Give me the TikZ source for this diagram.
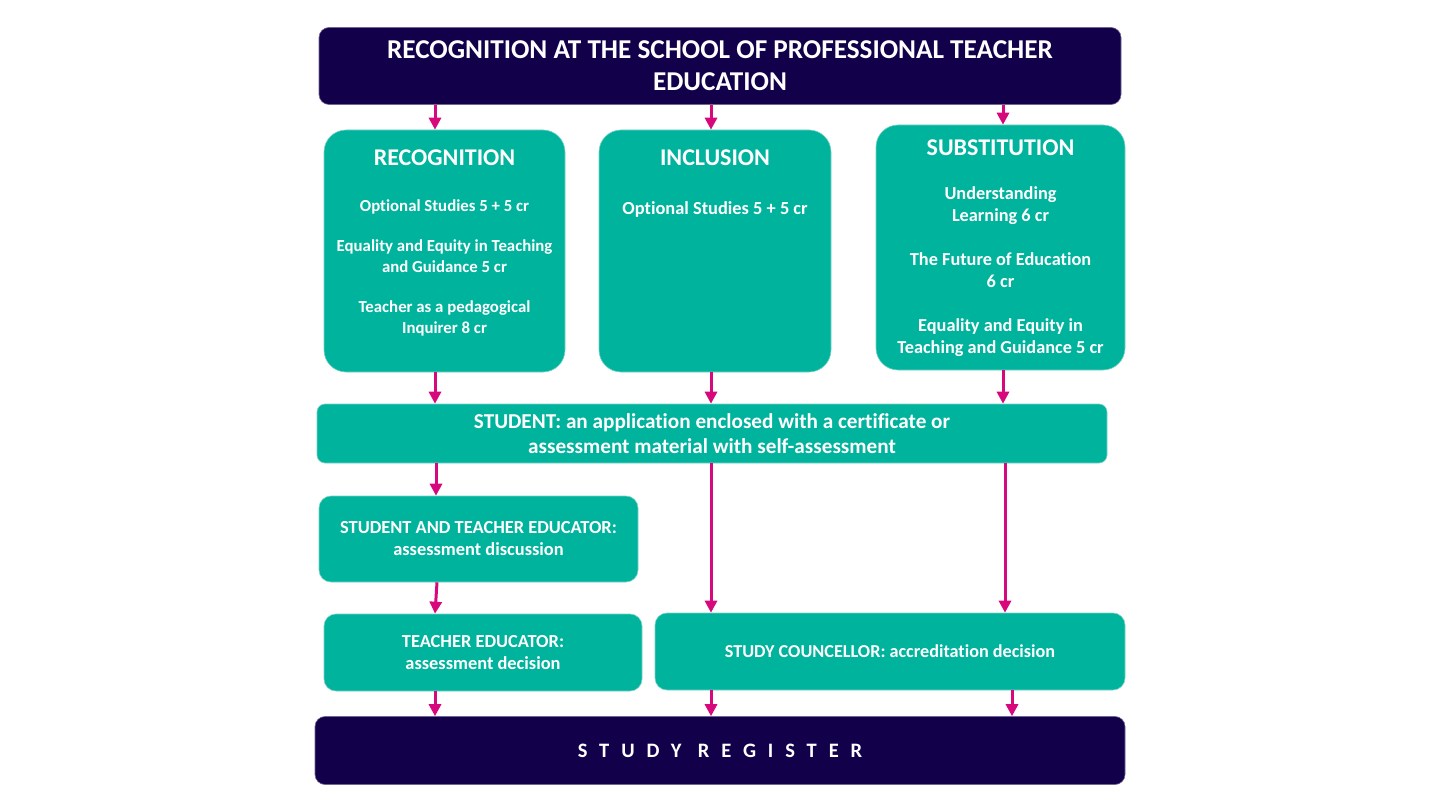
\documentclass[tikz,border=0pt]{standalone}
\usepackage{fontspec}
\setmainfont[Ligatures=NoCommon]{Carlito}
\newfontfamily\spacedfont[LetterSpace=58,Ligatures=NoCommon]{Carlito}
\usetikzlibrary{arrows.meta}
\definecolor{navy}{RGB}{18,0,74}
\definecolor{teal}{RGB}{0,179,157}
\definecolor{mag}{RGB}{214,8,124}
\definecolor{tealedge}{RGB}{120,210,198}
\tikzset{
  navybox/.style={fill=navy, draw=navy!60, line width=0.6pt, rounded corners=10pt, inner sep=0pt, text=white, font=\bfseries},
  tealbox/.style={fill=teal, draw=tealedge, line width=0.6pt, inner sep=0pt, text=white, font=\bfseries},
  txt/.style={text=white, font=\bfseries, align=center, inner sep=0pt},
  arr/.style={draw=mag, line width=3pt, -{Triangle[length=12pt,width=12pt]}, shorten >=0pt}
}
\begin{document}
\begin{tikzpicture}[x=1pt,y=-1pt]
\useasboundingbox (0,0) rectangle (1440,810);
% boxes
\node[navybox, minimum width=802pt, minimum height=77pt, align=center, font=\bfseries\fontsize{27.2}{32}\selectfont] (top) at (720,66)
  {RECOGNITION AT THE SCHOOL OF PROFESSIONAL TEACHER\\EDUCATION};
\node[tealbox, rounded corners=22pt, minimum width=241pt, minimum height=242pt] (rec) at (444.5,251) {};
\node[tealbox, rounded corners=22pt, minimum width=232pt, minimum height=242pt] (inc) at (715,251) {};
\node[tealbox, rounded corners=22pt, minimum width=249pt, minimum height=245pt] (sub) at (1000.5,247.5) {};
\node[tealbox, rounded corners=8pt, minimum width=790pt, minimum height=59pt, align=center, font=\bfseries\fontsize{21.2}{25}\selectfont] (stu) at (712,433.5)
  {STUDENT: an application enclosed with a certificate or\\assessment material with self-assessment};
\node[tealbox, rounded corners=12pt, minimum width=319pt, minimum height=86pt, align=center, font=\bfseries\fontsize{18.4}{22}\selectfont] (ste) at (478.5,539)
  {STUDENT AND TEACHER EDUCATOR:\\assessment discussion};
\node[tealbox, rounded corners=12pt, minimum width=318pt, minimum height=77pt, align=center, font=\bfseries\fontsize{18.4}{22}\selectfont] (ted) at (483,652.5)
  {TEACHER EDUCATOR:\\assessment decision};
\node[tealbox, rounded corners=12pt, minimum width=470pt, minimum height=77pt, font=\bfseries\fontsize{18.2}{22}\selectfont] (sco) at (890,651.5)
  {STUDY COUNCELLOR: accreditation decision};
\node[navybox, minimum width=810pt, minimum height=68pt, font=\bfseries\spacedfont\fontsize{20.5}{24}\selectfont] (reg) at (720,750.5)
  {STUDY REGISTER};
% texts inside upper boxes
\node[txt, font=\bfseries\fontsize{24}{28}\selectfont] (recT) at (444.5,158) {RECOGNITION};
\node[txt, font=\bfseries\fontsize{16.8}{21}\selectfont] (recB) at (444.5,268)
  {Optional Studies 5 + 5 cr\\[19pt]Equality and Equity in Teaching\\and Guidance 5 cr\\[19pt]Teacher as a pedagogical\\Inquirer 8 cr};
\node[txt, font=\bfseries\fontsize{24}{28}\selectfont] (incT) at (715,158) {INCLUSION};
\node[txt, font=\bfseries\fontsize{18.4}{21}\selectfont] (incB) at (715,209) {Optional Studies 5 + 5 cr};
\node[txt, font=\bfseries\fontsize{24}{28}\selectfont] (subT) at (1000.5,148) {SUBSTITUTION};
\node[txt, font=\bfseries\fontsize{18.3}{22}\selectfont] (subB) at (1000.5,272)
  {Understanding\\Learning 6 cr\\[22pt]The Future of Education\\6 cr\\[22pt]Equality and Equity in\\Teaching and Guidance 5 cr};
% arrows
\draw[arr] (435,0 |- top.south) -- (435,0 |- rec.north);
\draw[arr] (711,0 |- top.south) -- (711,0 |- inc.north);
\draw[arr] (1003,0 |- top.south) -- (1003,0 |- sub.north);
\draw[arr] (435,0 |- rec.south) -- (435,0 |- stu.north);
\draw[arr] (711,0 |- inc.south) -- (711,0 |- stu.north);
\draw[arr] (1003,0 |- sub.south) -- (1003,0 |- stu.north);
\draw[arr] (436,0 |- stu.south) -- (436,0 |- ste.north);
\draw[arr] (711,0 |- stu.south) -- (711,0 |- sco.north);
\draw[arr] (1005,0 |- stu.south) -- (1005,0 |- sco.north);
\draw[arr] (437,0 |- ste.south) -- (435,0 |- ted.north);
\draw[arr] (435,0 |- ted.south) -- (435,0 |- reg.north);
\draw[arr] (711,0 |- sco.south) -- (711,0 |- reg.north);
\draw[arr] (1012,0 |- sco.south) -- (1012,0 |- reg.north);
\end{tikzpicture}
\end{document}
